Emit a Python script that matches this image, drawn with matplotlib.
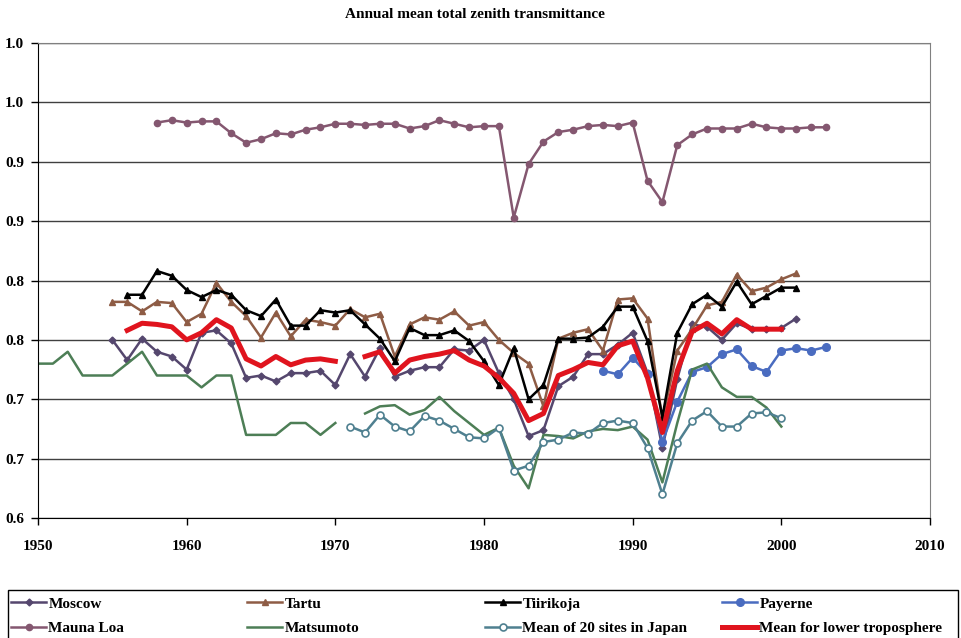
import numpy as np
import matplotlib
matplotlib.use("Agg")
import matplotlib.pyplot as plt
from matplotlib.patches import Rectangle

plt.rcParams['font.family'] = ['Liberation Serif', 'DejaVu Serif']
plt.rcParams['font.weight'] = 'bold'

# ---- data -----------------------------------------------------------------
moscow_start = 1955
moscow = [.750, .733, .751, .740, .736, .725, .756, .758, .747, .718, .720, .715,
          .722, .722, .724, .712, .738, .719, .743, .719, .724, .727, .727, .742,
          .741, .750, .722, .700, .669, .674, .711, .719, .738, .738, .746, .756,
          .722, .659, .717, .763, .761, .750, .764, .759, .759, .760, .768]

tartu_start = 1955
tartu = [.782, .782, .774, .782, .781, .765, .772, .798, .782, .770, .752, .773,
         .753, .767, .765, .762, .776, .769, .772, .736, .763, .769, .767, .774,
         .762, .765, .750, .739, .730, .694, .751, .756, .759, .741, .784, .785,
         .768, .683, .741, .759, .779, .782, .805, .791, .794, .801, .806]

tiirikoja_start = 1956
tiirikoja = [.788, .788, .808, .804, .792, .786, .792, .788, .775, .770, .784, .762,
             .762, .775, .773, .775, .763, .751, .732, .760, .754, .754, .758, .749,
             .732, .712, .743, .700, .712, .751, .751, .752, .761, .778, .778, .749,
             .685, .756, .780, .788, .778, .799, .780, .787, .794, .794]

payerne_start = 1988
payerne = [.724, .721, .735, .721, .664, .698, .723, .727, .738, .742, .728, .723,
           .741, .743, .741, .744]

mauna_loa_start = 1958
mauna_loa = [.933, .935, .933, .934, .934, .924, .916, .919, .924, .923, .927, .929,
             .932, .932, .931, .932, .932, .928, .930, .935, .932, .929, .930, .930,
             .853, .898, .917, .925, .927, .930, .931, .930, .933, .884, .866, .914,
             .923, .928, .928, .928, .932, .929, .928, .928, .929, .929]

matsumoto_start = 1950
matsumoto = [.730, .730, .740, .720, .720, .720, .730, .740, .720, .720, .720, .710,
             .720, .720, .670, .670, .670, .680, .680, .670, .680, np.nan, .688, .694,
             .695, .687, .691, .702, .690, .680, .670, .676, .644, .625, .670, .669,
             .667, .673, .675, .674, .677, .666, .630, .680, .725, .730, .710, .702,
             .702, .693, .677]

japan_start = 1971
japan = [.677, .672, .687, .677, .673, .686, .682, .675, .668, .667, .676, .640,
         .644, .664, .666, .672, .671, .680, .682, .680, .659, .620, .663, .682,
         .690, .677, .677, .688, .689, .684]

mean_start = 1956
mean_lt = [.758, .764, .763, .761, .750, .756, .767, .760, .734, .728, .736, .729,
           .733, .734, .732, np.nan, .736, .740, .722, .733, .736, .738, .741, .733,
           .728, .718, .705, .682, .688, .720, .725, .731, .729, .745, .749, .718,
           .672, .724, .757, .764, .755, .767, .759, .759, .759]

y_ticks = [0.60, 0.65, 0.70, 0.75, 0.80, 0.85, 0.90, 0.95, 1.00]
y_tick_labels = ['0.6', '0.7', '0.7', '0.8', '0.8', '0.9', '0.9', '1.0', '1.0']
x_ticks = [1950, 1960, 1970, 1980, 1990, 2000, 2010]


def yrs(start, vals):
    return np.arange(start, start + len(vals))


# ---- figure -----------------------------------------------------------------
W, H = 962, 638
fig = plt.figure(figsize=(W / 100, H / 100), dpi=100)
ax = fig.add_axes([38 / W, 1 - 518 / H, (930 - 38) / W, (518 - 43) / H])

series = [
    ("Moscow", moscow_start, moscow, dict(color='#55476e', marker='D', ms=3.5, lw=1.8)),
    ("Tartu", tartu_start, tartu, dict(color='#8e5c45', marker='^', ms=5, lw=1.8)),
    ("Tiirikoja", tiirikoja_start, tiirikoja, dict(color='black', marker='^', ms=5, lw=1.8)),
    ("Payerne", payerne_start, payerne, dict(color='#4a6cc0', marker='o', ms=5.5, lw=1.8)),
    ("Mauna Loa", mauna_loa_start, mauna_loa, dict(color='#845770', marker='o', ms=4.5, lw=1.8)),
    ("Matsumoto", matsumoto_start, matsumoto, dict(color='#4d7e56', lw=1.8)),
    ("Mean of 20 sites in Japan", japan_start, japan,
     dict(color='#4f8090', marker='o', ms=5, mfc='white', mew=1.2, lw=1.8)),
    ("Mean for lower troposphere", mean_start, mean_lt, dict(color='#e0141e', lw=3.6)),
]

handles = {}
for name, start, vals, style in series:
    line, = ax.plot(yrs(start, vals), vals, label=name, **style)
    handles[name] = line

ax.set_xlim(1950, 2010)
ax.set_ylim(0.6, 1.0)
ax.set_xticks(x_ticks)
ax.set_xticklabels([str(x) for x in x_ticks])
ax.set_yticks(y_ticks)
ax.set_yticklabels(y_tick_labels)
ax.yaxis.grid(True, color='#404040', lw=1.0)
ax.set_axisbelow(True)
ax.tick_params(axis='x', length=5, width=1, pad=11, labelsize=11)
ax.tick_params(axis='y', length=5, width=1, pad=5, labelsize=11)
for lab in ax.get_xticklabels() + ax.get_yticklabels():
    lab.set_fontweight('bold')
ax.spines['left'].set_color('black')
ax.spines['bottom'].set_color('black')
ax.spines['top'].set_color('#808080')
ax.spines['right'].set_color('#808080')

fig.text(474.5 / W, 1 - 15 / H, "Annual mean total zenith transmittance",
         ha='center', va='center', fontsize=11, fontweight='bold')

# legend: framed box with four evenly spaced columns of two entries each
fig.patches.append(Rectangle((8 / W, 1 - 650 / H), 950 / W, 60 / H,
                             transform=fig.transFigure, facecolor='white',
                             edgecolor='black', lw=1.0, zorder=1))
columns = [["Moscow", "Mauna Loa"], ["Tartu", "Matsumoto"],
           ["Tiirikoja", "Mean of 20 sites in Japan"],
           ["Payerne", "Mean for lower troposphere"]]
col_x = [11, 247, 485, 722]
for names, x0 in zip(columns, col_x):
    leg = fig.legend([handles[n] for n in names], names, loc='upper left',
                     bbox_to_anchor=(x0 / W, 1 - 597 / H), frameon=False,
                     numpoints=1, borderaxespad=0, borderpad=0,
                     prop=dict(weight='bold', size=11), handlelength=2.3,
                     handletextpad=0.15, labelspacing=0.72)
    leg.set_zorder(2)

fig.savefig("out.png", dpi=100)
